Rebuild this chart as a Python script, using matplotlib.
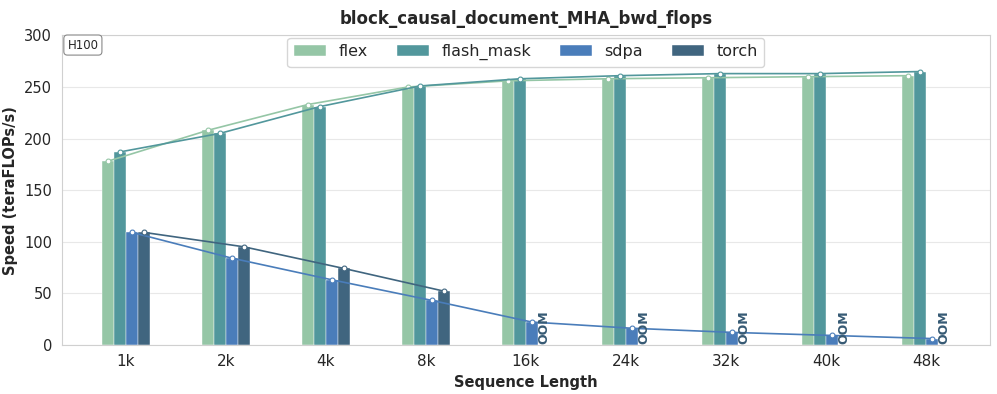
import numpy as np
import matplotlib
matplotlib.use("Agg")
import matplotlib.pyplot as plt
import seaborn as sns

sns.set_style("whitegrid")
plt.rcParams['font.family'] = ['DejaVu Sans']

seq_labels = ["1k", "2k", "4k", "8k", "16k", "24k", "32k", "40k", "48k"]
flex       = [178, 208, 233, 250, 256, 258, 259, 260, 261]
flash_mask = [187, 205, 231, 251, 258, 261, 263, 263, 265]
sdpa       = [109, 84, 63, 43, 22, 16, 12, 9, 6]
torch      = [109, 95, 74, 52, None, None, None, None, None]

series = [("flex", flex, "#95c6a6"),
          ("flash_mask", flash_mask, "#52979c"),
          ("sdpa", sdpa, "#4a7dba"),
          ("torch", torch, "#40657f")]

fig, ax = plt.subplots(figsize=(9.97, 3.94), dpi=100)
x = np.arange(len(seq_labels))
w = 0.12
offsets = [-1.5 * w, -0.5 * w, 0.5 * w, 1.5 * w]

for (name, vals, col), off in zip(series, offsets):
    xs = [xi + off for xi, v in zip(x, vals) if v is not None]
    ys = [v for v in vals if v is not None]
    ax.bar(xs, ys, width=w, color=col, label=name, edgecolor="white", linewidth=0.3, zorder=2)
    ax.plot(xs, ys, color=col, linewidth=1.2, marker="o", markersize=3.5,
            markerfacecolor="white", markeredgecolor=col, markeredgewidth=0.8, zorder=3)
    # missing values -> OOM
    for xi, v in zip(x, vals):
        if v is None:
            ax.text(xi + off, 0.5, "OOM", rotation=90, ha="center", va="bottom",
                    fontsize=9, fontweight="heavy", color="#365a74", zorder=4)

ax.set_xticks(x)
ax.set_xticklabels(seq_labels, fontsize=11)
ax.set_xlim(-0.64, 8.64)
ax.set_ylim(0, 300)
ax.tick_params(axis="y", labelsize=10.5)
ax.xaxis.grid(False)
ax.yaxis.grid(True, color="#e8e8e8")
for s in ax.spines.values():
    s.set_color("#d0d0d0")

ax.set_title("block_causal_document_MHA_bwd_flops", fontsize=12, fontweight="bold", pad=8)
ax.set_xlabel("Sequence Length", fontsize=10.5, fontweight="bold")
ax.set_ylabel("Speed (teraFLOPs/s)", fontsize=10.5, fontweight="bold")

ax.legend(loc="upper center", ncol=4, fontsize=11.5, frameon=True, handlelength=2.0,
          columnspacing=1.8, borderaxespad=0.15, bbox_to_anchor=(0.5, 1.0))
ax.text(0.006, 0.99, "H100", transform=ax.transAxes, fontsize=8.5, va="top", ha="left",
        bbox=dict(boxstyle="round,pad=0.3", facecolor="white", edgecolor="#888888", linewidth=0.8))

fig.subplots_adjust(left=0.062, right=0.993, top=0.91, bottom=0.125)
fig.savefig("out.png", dpi=100)
